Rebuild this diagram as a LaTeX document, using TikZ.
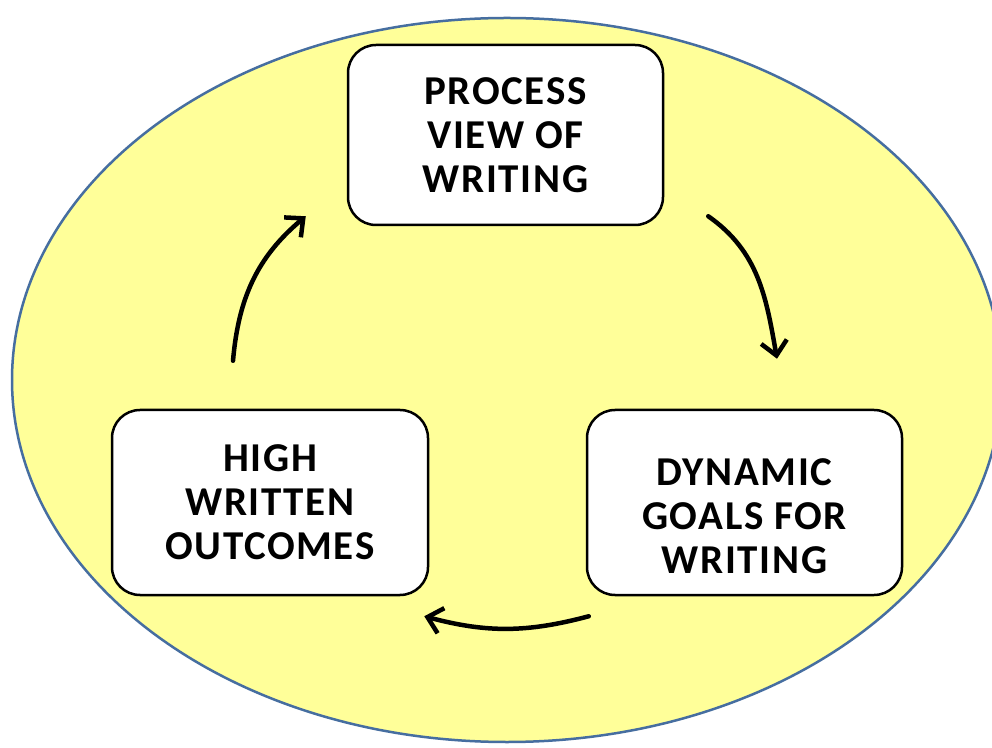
\documentclass[tikz,border=0pt]{standalone}
\usepackage{fontspec}
\setmainfont{Carlito}
\usetikzlibrary{arrows.meta}
\definecolor{ovalfill}{RGB}{255,255,153}
\definecolor{ovalline}{RGB}{70,110,160}
\tikzset{
  stagebox/.style={draw=black, line width=2.5pt, fill=white, rounded corners=28pt,
    align=center, font=\fontsize{41}{44}\selectfont\bfseries\addfontfeatures{LetterSpace=4}, inner sep=0pt},
  cyclearrow/.style={->, line width=4.5pt, line cap=round}
}
\begin{document}
\begin{tikzpicture}[>={Straight Barb[length=14pt,width=26pt]}, x=1pt, y=1pt]
		\clip (0,0) rectangle (992,747);
		\fill[white] (0,0) rectangle (992,747);
		\draw[ovalline, fill=ovalfill, line width=2.5pt] (507,367) ellipse [x radius=495, y radius=362];
		% the three stages
		\node[stagebox, minimum width=315pt, minimum height=180pt] (view) at (505.5,612) {PROCESS\\VIEW OF\\WRITING};
		\node[stagebox, minimum width=315pt, minimum height=185pt] (goals) at (744.5,244.5) {\raisebox{-24pt}[0pt][0pt]{\begin{tabular}{@{}c@{}}DYNAMIC\\GOALS FOR\\WRITING\end{tabular}}};
		\node[stagebox, minimum width=316pt, minimum height=185pt] (high) at (270,244.5) {HIGH\\WRITTEN\\OUTCOMES};
		% arrow ends
		\coordinate (a1) at ([shift={(44,10)}]view.south east);
		\coordinate (a2) at ([shift={(32.5,50)}]goals.north);
		\coordinate (b1) at ([shift={(3,-20)}]goals.south west);
		\coordinate (b2) at ([shift={(-5,-20)}]high.south east);
		\coordinate (c1) at ([shift={(-37,48)}]high.north);
		\coordinate (c2) at ([shift={(-41,10)}]view.south west);
		\draw[cyclearrow] (a1) to[out=-35, in=100] (a2);
		\draw[cyclearrow] (b1) to[out=195, in=-15] (b2);
		\draw[cyclearrow] (c1) to[out=85, in=220] (c2);
\end{tikzpicture}
\end{document}
